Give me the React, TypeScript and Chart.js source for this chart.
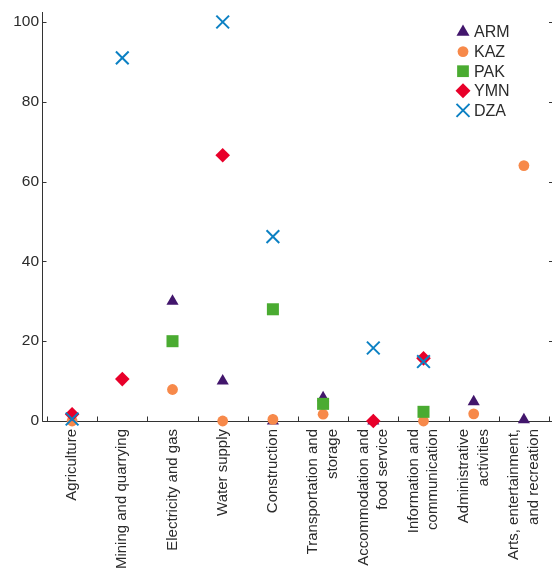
import React, { useEffect, useRef } from 'react';
import { Chart, registerables } from 'chart.js';
import { drawPoint } from 'chart.js/helpers';

Chart.register(...registerables);

const categories: (string | string[])[] = [
  'Agriculture',
  'Mining and quarrying',
  'Electricity and gas',
  'Water supply',
  'Construction',
  ['Transportation and', 'storage'],
  ['Accommodation and', 'food service'],
  ['Information and', 'communication'],
  ['Administrative', 'activities'],
  ['Arts, entertainment,', 'and recreation'],
];

const ARM = [null, null, 30, 10, 0, 5.8, 0, null, 4.8, 0.3];
const KAZ = [0, null, 7.9, 0, 0.4, 1.7, null, 0, 1.8, 64];
const PAK = [null, null, 20, null, 28, 4.3, null, 2.3, null, null];
const YMN = [1.7, 10.5, null, 66.6, null, null, 0, 15.7, null, null];
const DZA = [0.5, 91, null, 100, 46.2, null, 18.3, 14.9, null, null];

const yTicks = [0, 20, 40, 60, 80, 100];

const seriesNames = ['ARM', 'KAZ', 'PAK', 'YMN', 'DZA'];
const seriesData = [ARM, KAZ, PAK, YMN, DZA];

const seriesStyle = [
  { color: '#42166c', pointStyle: 'triangle', radius: 7, borderWidth: 0, legendRadius: 7.5 },
  { color: '#f7894a', pointStyle: 'circle', radius: 5.4, borderWidth: 0, legendRadius: 5.4 },
  { color: '#4aab31', pointStyle: 'rect', radius: 8.5, borderWidth: 0, legendRadius: 8.3 },
  { color: '#e8002a', pointStyle: 'rectRot', radius: 7.3, borderWidth: 0, legendRadius: 7.5 },
  { color: '#0b80c3', pointStyle: 'crossRot', radius: 9, borderWidth: 2, legendRadius: 9.2 },
];

const TEXT = '#2b2b2b';

const axesPlugin = {
  id: 'customAxes',
  beforeDraw(chart: any) {
    const xs = chart.scales.x;
    const items = xs.getLabelItems(chart.chartArea);
    items.forEach((item: any) => {
      if (item._centered) return;
      item._centered = true;
      if (Array.isArray(item.label) && item.label.length > 1) {
        item.textOffset -= ((item.label.length - 1) * item.font.lineHeight) / 2;
      }
    });
  },
  beforeDatasetsDraw(chart: any) {
    const { ctx, chartArea, scales } = chart;
    const xs = scales.x;
    const ys = scales.y;
    ctx.save();
    ctx.strokeStyle = '#333';
    ctx.lineWidth = 1;
    const axisX = Math.round(chartArea.left) - 5 + 0.5;
    const bottom = Math.round(chartArea.bottom) + 0.5;
    ctx.beginPath();
    ctx.moveTo(axisX, chartArea.top);
    ctx.lineTo(axisX, bottom);
    ctx.moveTo(axisX, bottom);
    ctx.lineTo(chart.width, bottom);
    ys.ticks.forEach((t: any) => {
      const py = Math.round(ys.getPixelForValue(t.value)) + 0.5;
      ctx.moveTo(axisX, py);
      ctx.lineTo(axisX + 4, py);
      ctx.moveTo(chart.width - 3, py);
      ctx.lineTo(chart.width, py);
    });
    const n = categories.length;
    const half = (xs.getPixelForValue(1) - xs.getPixelForValue(0)) / 2;
    for (let i = 0; i <= n; i++) {
      const px = Math.round(xs.getPixelForValue(Math.min(i, n - 1)) + (i === n ? half : -half)) + 0.5;
      ctx.moveTo(px, bottom);
      ctx.lineTo(px, bottom - 5);
    }
    ctx.stroke();
    ctx.restore();
  },
  afterDraw(chart: any) {
    const ctx = chart.ctx;
    ctx.save();
    seriesNames.forEach((name, i) => {
      const s = seriesStyle[i];
      const cy = 32 + i * 19.6;
      ctx.fillStyle = s.color;
      ctx.strokeStyle = s.color;
      ctx.lineWidth = s.borderWidth;
      drawPoint(ctx, { pointStyle: s.pointStyle, radius: s.legendRadius, borderWidth: s.borderWidth, rotation: 0 } as any, 463, cy);
      ctx.fillStyle = TEXT;
      ctx.font = "16px 'Liberation Sans Narrow', 'Liberation Sans', sans-serif";
      ctx.textBaseline = 'middle';
      ctx.textAlign = 'left';
      ctx.fillText(name, 474, cy + 1);
    });
    ctx.restore();
  },
};

export default function App() {
  const ref = useRef<HTMLCanvasElement | null>(null);
  useEffect(() => {
    document.body.style.margin = '0';
    if (!ref.current) return;
    const order = [4, 3, 2, 1, 0];
    const chart = new Chart(ref.current, {
      type: 'line',
      data: {
        labels: categories as any,
        datasets: order.map((i) => ({
          label: seriesNames[i],
          data: seriesData[i] as any,
          showLine: false,
          clip: false as any,
          pointStyle: seriesStyle[i].pointStyle as any,
          pointRadius: seriesStyle[i].radius,
          pointBackgroundColor: seriesStyle[i].color,
          pointBorderColor: seriesStyle[i].color,
          pointBorderWidth: seriesStyle[i].borderWidth,
          backgroundColor: seriesStyle[i].color,
          borderColor: seriesStyle[i].color,
        })),
      },
      options: {
        responsive: false,
        animation: false,
        events: [],
        layout: { autoPadding: false, padding: { top: 12, right: 3, left: 0, bottom: 0 } },
        plugins: { legend: { display: false }, tooltip: { enabled: false } },
        scales: {
          x: {
            type: 'category',
            offset: true,
            grid: { display: false, drawTicks: false },
            border: { display: false },
            afterFit: (s: any) => {
              s.height = 151;
              s.paddingLeft = 0;
              s.paddingRight = 0;
            },
            ticks: {
              autoSkip: false,
              minRotation: 90,
              maxRotation: 90,
              padding: 8,
              color: TEXT,
              font: { family: "'Liberation Sans', Arial, sans-serif", size: 15, lineHeight: 1.3 },
            },
          },
          y: {
            type: 'linear',
            min: 0,
            max: 102.5,
            grid: { display: false, drawTicks: false },
            border: { display: false },
            afterFit: (s: any) => {
              s.width = 47;
              s.paddingTop = 0;
              s.paddingBottom = 0;
            },
            afterBuildTicks: (s: any) => {
              s.ticks = yTicks.map((v) => ({ value: v }));
            },
            ticks: {
              padding: 8,
              color: TEXT,
              font: { family: "'Liberation Sans', Arial, sans-serif", size: 15.5 },
            },
          },
        },
      },
      plugins: [axesPlugin as any],
    });
    return () => chart.destroy();
  }, []);
  return (
    <div style={{ width: 552, height: 572 }}>
      <canvas ref={ref} width={552} height={572} style={{ display: 'block' }} />
    </div>
  );
}
